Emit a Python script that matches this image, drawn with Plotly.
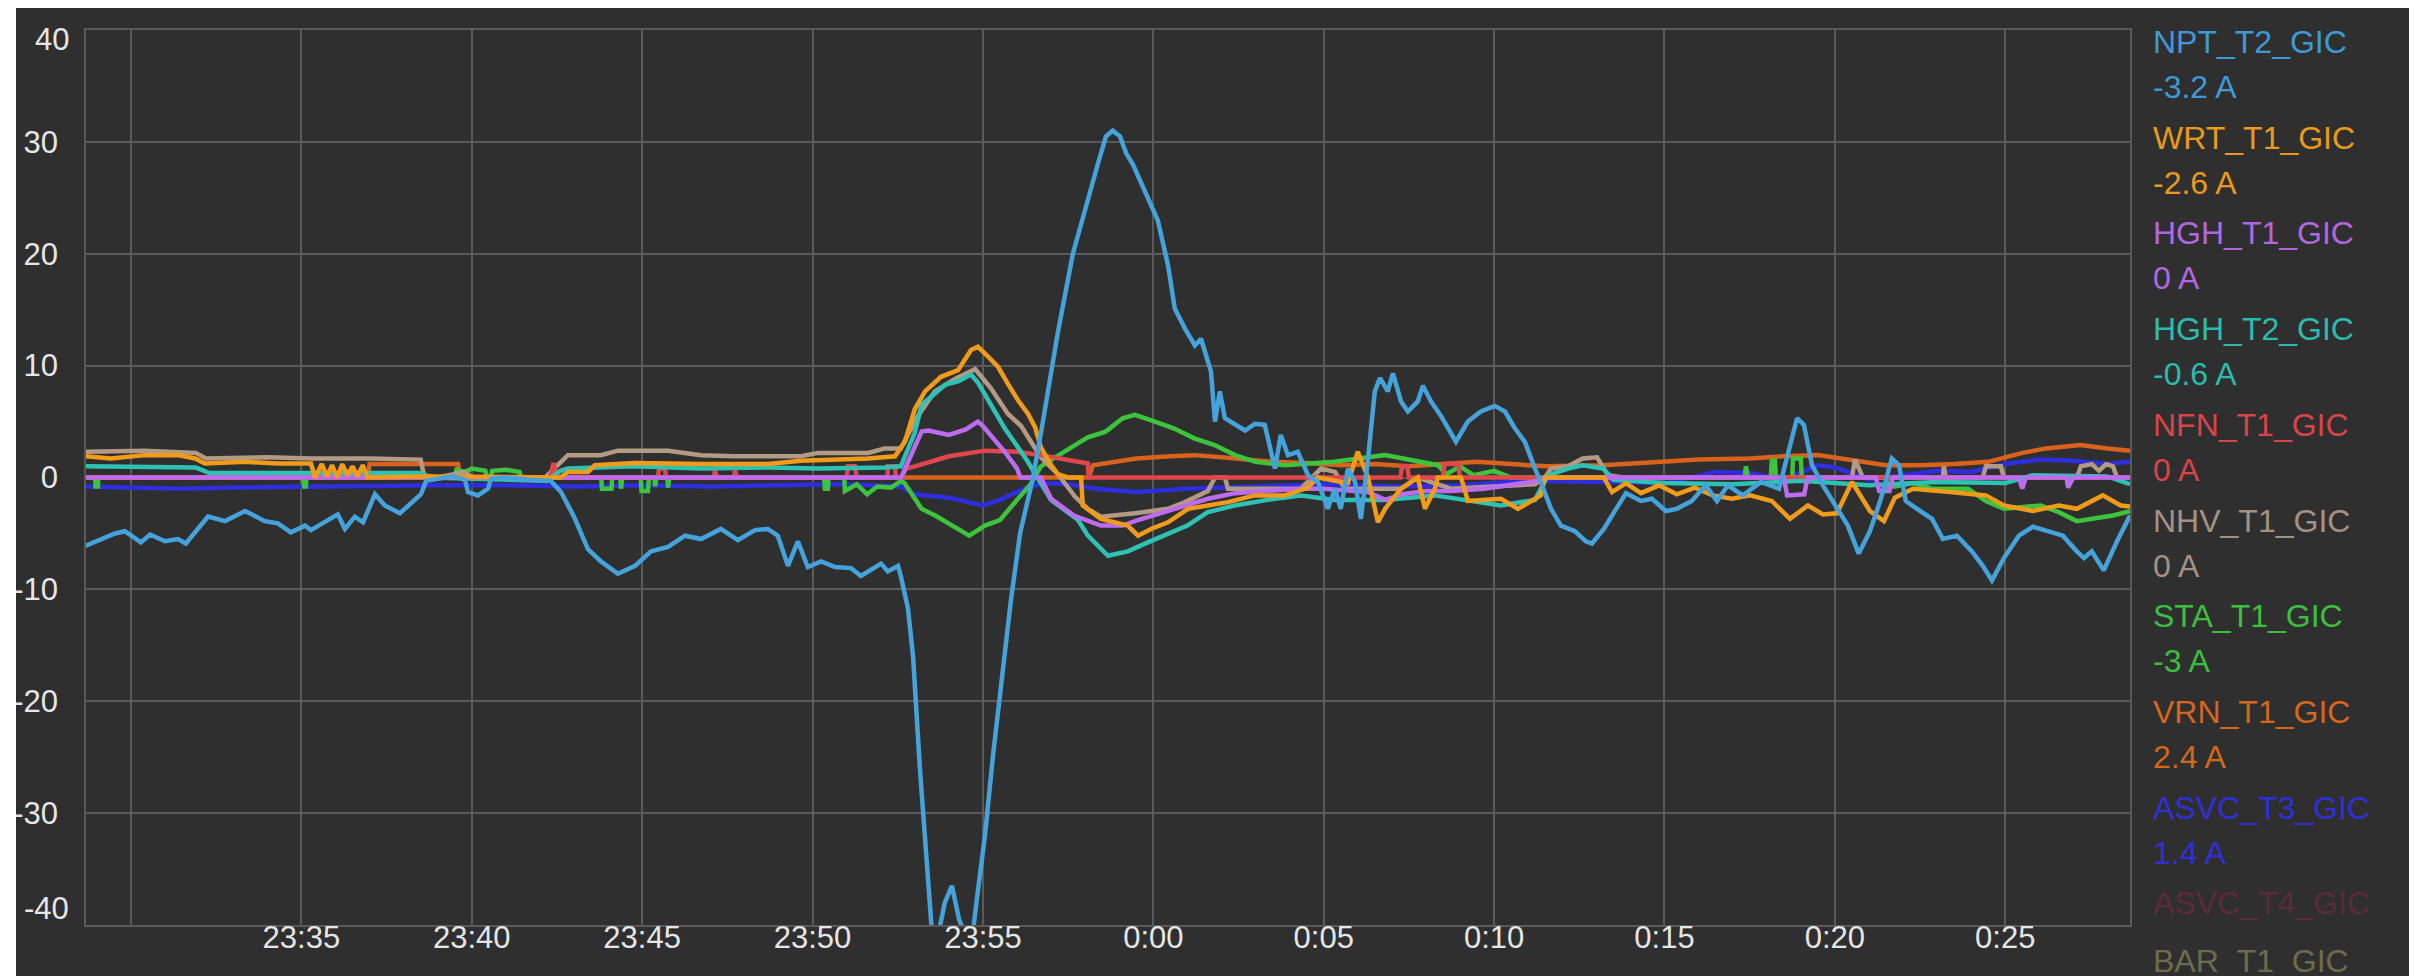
import plotly.graph_objects as go
import pandas as pd

BASE = pd.Timestamp("2024-05-10 23:30:00")

# (minutes after 23:30, amps)
npt = [(-1.41,-6.2),(-0.97,-5.6),(-0.47,-5.0),(-0.18,-4.8),(0.29,-5.8),(0.56,-5.1),(1.0,-5.7),(1.38,-5.5),(1.61,-5.9),
       (2.26,-3.5),(2.76,-3.9),(3.35,-3.0),(3.93,-3.9),(4.31,-4.1),(4.69,-4.9),(5.11,-4.3),(5.28,-4.7),(6.07,-3.3),
       (6.28,-4.6),(6.57,-3.5),(6.81,-4.0),(7.16,-1.5),(7.45,-2.5),(7.89,-3.2),(8.22,-2.3),(8.51,-1.5),(8.66,-0.3),
       (9.01,-0.1),(9.45,0.1),(9.80,-0.2),(9.89,-1.3),(10.18,-1.6),(10.48,-1.0),(10.56,-0.1),(11.06,0.0),(11.65,-0.2),
       (12.32,-0.3),(12.62,-1.3),(13.0,-3.5),(13.41,-6.4),(13.79,-7.5),(14.29,-8.6),(14.79,-7.9),(15.26,-6.6),
       (15.76,-6.2),(16.26,-5.2),(16.73,-5.5),(17.31,-4.6),(17.81,-5.6),(18.31,-4.7),(18.69,-4.6),(18.98,-5.2),
       (19.28,-7.9),(19.57,-5.7),(19.86,-8.0),(20.25,-7.5),(20.66,-8.0),(21.13,-8.1),(21.42,-8.8),(22.01,-7.7),
       (22.21,-8.4),(22.51,-7.9),(22.59,-8.8),(22.80,-11.7),(22.95,-16),(23.15,-26),(23.33,-34),(23.50,-40.5),
       (23.68,-41),(23.88,-38),(24.09,-36.5),(24.30,-39.5),(24.50,-41),(24.71,-40.5),(24.85,-37),(25.06,-32),
       (25.29,-25),(25.56,-18),(25.82,-11),(26.09,-5),(26.47,0),(26.76,5),(27.20,13),(27.64,20),(28.08,25),
       (28.37,28),(28.61,30.5),(28.81,31),(29.02,30.5),(29.20,29),(29.40,28),(29.69,26),(30.13,23),(30.43,19),
       (30.63,15.1),(30.93,13.3),(31.22,11.8),(31.40,12.4),(31.69,9.5),(31.81,5.0),(31.95,7.7),(32.10,5.3),
       (32.39,4.7),(32.69,4.2),(32.98,4.8),(33.27,4.7),(33.57,0.8),(33.74,3.8),(33.95,2.0),(34.24,2.3),(34.54,0.2),
       (34.83,-0.4),(35.12,-2.8),(35.33,-1.0),(35.50,-2.8),(35.71,0.8),(35.92,-0.4),(36.09,-3.7),(36.30,1.7),
       (36.50,7.7),(36.65,8.9),(36.88,7.7),(37.03,9.3),(37.27,6.8),(37.47,5.9),(37.76,6.8),(37.91,8.2),(38.15,6.8),
       (38.44,5.5),(38.88,3.2),(39.23,5.0),(39.61,5.9),(40.02,6.4),(40.32,5.9),(40.61,4.4),(40.90,3.2),(41.20,0.8),
       (41.37,-0.4),(41.67,-2.8),(41.96,-4.3),(42.37,-4.8),(42.69,-5.7),(42.87,-5.9),(43.22,-4.6),(43.54,-3.0),
       (43.87,-1.4),(44.31,-2.1),(44.63,-1.9),(45.04,-3.0),(45.36,-2.8),(45.80,-2.1),(46.21,-0.7),(46.54,-2.1),
       (46.86,-0.7),(47.30,-1.6),(47.83,-0.4),(48.36,-1.0),(48.68,2.9),(48.89,5.3),(49.09,4.7),(49.33,1.1),
       (49.65,-0.7),(50.06,-2.8),(50.38,-4.3),(50.70,-6.8),(51.03,-4.8),(51.35,-1.9),(51.67,1.7),(51.88,1.1),
       (52.08,-2.1),(52.41,-2.8),(52.85,-3.7),(53.17,-5.5),(53.58,-5.2),(54.02,-6.6),(54.34,-7.9),(54.61,-9.2),
       (54.96,-7.2),(55.40,-5.2),(55.81,-4.4),(56.25,-4.8),(56.69,-5.2),(57.10,-6.6),(57.31,-7.2),(57.54,-6.6),
       (57.89,-8.3),(58.28,-5.7),(58.66,-3.4)]

wrt = [(-1.35,1.9),(-0.59,1.7),(0.41,2.0),(1.38,2.0),(1.88,1.7),(2.17,1.25),(3.35,1.4),(4.31,1.25),(5.28,1.25),
       (5.4,0.0),(5.6,1.2),(5.75,0.1),(5.9,1.1),(6.05,0.0),(6.2,1.2),(6.35,0.2),(6.5,1.0),(6.65,0.1),(6.8,1.1),
       (6.95,0.0),(8.5,0.1),(12.6,0.0),(12.82,0.5),(13.41,0.5),(13.61,1.1),(14.79,1.3),(16.73,1.2),(18.69,1.2),
       (19.66,1.5),(21.63,1.7),(22.42,1.9),(22.71,3.2),(23.0,6.1),(23.3,7.7),(23.77,9.0),(24.27,9.6),(24.65,11.4),
       (24.85,11.7),(25.15,10.8),(25.44,9.9),(25.73,8.4),(26.03,6.9),(26.32,5.7),(26.53,4.5),(26.7,2.7),(27.0,1.1),
       (27.2,0.3),(27.49,0.0),(27.88,0.0),(27.93,-2.5),(28.46,-3.7),(29.25,-4.3),(29.55,-5.2),(29.93,-4.6),
       (30.43,-4.0),(31.02,-2.8),(31.6,-2.5),(32.19,-2.2),(32.98,-1.6),(33.86,-1.6),(34.54,-0.9),(34.83,0.0),
       (35.71,-0.5),(36.0,2.3),(36.3,0.0),(36.59,-4.0),(36.8,-2.8),(37.27,-1.0),(37.76,0.0),(37.97,-2.8),(38.26,-1.0),
       (38.35,0.0),(39.03,0.0),(39.23,-2.1),(40.2,-1.9),(40.7,-2.8),(41.37,-1.6),(41.49,0.0),(43.22,0.0),(43.46,-1.3),
       (43.87,-0.5),(44.31,-1.4),(44.84,-0.7),(45.36,-1.5),(45.89,-0.9),(46.42,-1.6),(46.98,-1.9),(47.51,-1.6),
       (48.15,-2.1),(48.68,-3.7),(49.21,-2.5),(49.65,-3.3),(50.06,-3.2),(50.5,-0.4),(51.03,-3.0),(51.44,-3.9),
       (51.76,-1.8),(52.29,-1.0),(53.38,-1.3),(54.43,-1.6),(54.96,-2.5),(55.81,-3.0),(56.57,-2.5),(57.1,-2.8),
       (57.86,-1.6),(58.39,-2.5),(58.66,-2.6)]

hgh_t1 = [(-1.4,0),(22.6,0),(23.2,4.1),(23.4,4.2),(24.0,3.8),(24.5,4.3),(24.85,5.0),(25.0,4.6),(25.64,2.3),
          (26.0,0.8),(26.1,0.0),(26.7,0.0),(27.0,-1.9),(27.67,-3.4),(28.46,-4.3),(29.1,-4.3),(29.55,-3.8),(30.0,-3.4),
          (30.7,-2.8),(31.6,-1.9),(32.4,-1.4),(33.4,-1.2),(34.3,-1.0),(35.0,-1.0),(36.3,-1.3),(36.8,-2.0),(37.3,-1.5),
          (38.0,-1.2),(38.73,-1.2),(39.7,-1.0),(40.7,-0.6),(41.3,-0.3),(41.5,0.0),(48.5,0.0),(48.6,-1.6),(49.1,-1.5),
          (49.2,0.0),(51.2,0.0),(51.3,-1.2),(51.6,-1.2),(51.7,0.0),(55.4,0.0),(55.5,-1.0),(55.6,0.0),(56.8,0.0),
          (56.84,-0.9),(57.0,0.0),(58.66,0.0)]

hgh_t2 = [(-1.35,1.0),(0.5,1.0),(1.9,0.9),(2.3,0.4),(5.3,0.4),(8.5,0.4),(8.7,0.0),(12.2,-0.3),(12.6,0.6),
          (12.82,0.8),(14.79,1.0),(16.73,0.8),(18.69,0.9),(20.16,0.8),(22.12,0.9),(22.59,1.0),(23.0,4.0),(23.2,6.5),
          (23.59,7.5),(23.9,8.3),(24.27,8.6),(24.65,9.2),(24.85,8.5),(25.15,7.0),(25.64,4.4),(26.3,1.5),(26.61,-0.1),
          (27.0,-2.0),(27.79,-3.8),(28.08,-5.2),(28.67,-7.0),(29.25,-6.6),(29.84,-5.8),(30.43,-5.0),(31.0,-4.3),
          (31.6,-3.1),(32.39,-2.5),(33.36,-2.0),(34.33,-1.6),(35.33,-2.0),(36.8,-2.0),(38.26,-1.6),(39.23,-2.0),
          (40.2,-2.5),(41.2,-2.0),(41.58,0.2),(42.17,0.8),(42.6,1.1),(43.2,0.8),(43.5,-0.2),(45.0,-0.5),(47.0,-0.6),
          (49.0,-0.3),(51.0,-0.7),(53.0,-0.4),(55.0,-0.5),(55.8,0.2),(57.0,0.2),(58.0,0.1),(58.66,-0.6)]

nfn = [(-1.4,0),(12.3,0),(12.4,1.3),(12.5,0),(15.46,0),(15.5,0.8),(15.67,0.8),(15.7,0),(17.1,0),(17.14,0.6),
       (17.2,0),(17.7,0),(17.72,0.6),(17.8,0),(21.0,0),(21.04,1.0),(21.24,1.0),(21.3,0),(22.2,0),(22.21,1.0),
       (22.42,1.0),(22.45,0),(22.6,0),(22.75,0.8),(23.0,1.0),(24.0,1.9),(25.05,2.4),(26.0,2.3),(26.7,2.0),(27.2,1.7),
       (28.08,1.25),(28.1,0),(37.25,0),(37.3,1.0),(37.45,1.0),(37.5,0),(38.5,0),(38.55,1.2),(38.95,1.2),(39.0,0),
       (58.66,0)]

nhv = [(-1.35,2.3),(0.4,2.4),(1.9,2.2),(2.2,1.7),(4.0,1.8),(5.3,1.7),(7.0,1.7),(8.5,1.6),(8.6,0.2),(9.0,0.0),
       (9.8,0.5),(10.0,0.0),(12.15,0.0),(12.5,1.0),(12.82,2.0),(13.79,2.0),(14.29,2.4),(15.76,2.4),(16.73,2.0),
       (17.72,1.9),(19.66,1.9),(20.16,2.2),(21.63,2.2),(22.12,2.6),(22.59,2.6),(23.09,5.5),(23.59,7.7),(24.18,8.8),
       (24.77,9.7),(25.23,8.0),(25.73,5.7),(26.12,4.6),(26.7,1.8),(27.2,0.3),(27.7,-1.7),(28.08,-2.8),(28.46,-3.5),
       (29.46,-3.2),(30.43,-2.8),(30.93,-2.2),(31.6,-1.2),(31.81,0.0),(32.1,0.0),(32.19,-1.0),(34.33,-1.0),
       (34.92,0.8),(35.33,0.5),(35.62,-1.0),(37.27,-1.0),(37.76,0.0),(38.26,-0.5),(38.73,-1.0),(41.2,-0.6),
       (41.49,0.0),(41.67,0.8),(42.17,1.0),(42.6,1.7),(43.02,1.8),(43.34,0.2),(43.78,0.0),(50.5,0.0),(50.59,1.6),
       (50.82,0.0),(53.17,0.0),(53.2,1.0),(53.25,0.0),(54.34,0.0),(54.43,1.0),(54.87,1.0),(54.96,0.0),(57.1,0.0),
       (57.22,1.0),(57.54,1.2),(57.75,0.6),(57.96,1.2),(58.16,1.0),(58.28,0.0),(58.66,0.0)]

sta = [(-1.4,0),(-1.05,0),(-1.04,-0.8),(-0.97,-0.8),(-0.96,0),(5.05,0),(5.08,-0.8),(5.13,-0.8),(5.15,0),(9.5,0),
       (9.55,0.7),(9.8,0.5),(10.0,0.8),(10.4,0.6),(10.45,0),(10.56,0),(10.6,0.6),(11.0,0.7),(11.4,0.5),(11.45,0),
       (13.8,0),(13.82,-1.0),(14.1,-1.0),(14.12,0),(14.36,0),(14.38,-1.0),(14.42,0),(14.96,0),(14.98,-1.2),
       (15.17,-1.2),(15.2,0),(15.36,0),(15.38,-0.8),(15.42,0),(15.74,0),(15.76,-0.9),(15.8,0),(20.34,0),(20.36,-1.0),
       (20.45,-1.0),(20.47,0),(20.93,0),(20.95,-1.2),(21.3,-0.6),(21.6,-1.5),(21.9,-0.8),(22.3,-0.9),(22.6,-0.3),
       (22.7,-0.5),(23.2,-2.8),(23.6,-3.4),(24.1,-4.3),(24.6,-5.2),(25.06,-4.3),(25.5,-3.8),(26.0,-2.0),(26.4,-0.6),
       (26.7,1.0),(27.2,2.0),(27.7,2.9),(28.08,3.6),(28.6,4.1),(29.1,5.3),(29.46,5.6),(30.05,5.0),(30.6,4.4),
       (31.2,3.5),(31.8,2.9),(32.4,2.0),(33.0,1.4),(33.86,1.1),(35.3,1.4),(36.8,2.0),(37.8,1.4),(38.35,1.1),
       (38.6,0.3),(39.0,1.0),(39.4,0.2),(40.0,0.6),(40.5,0.0),(47.35,0),(47.39,1.0),(47.45,0),(48.12,0),(48.15,1.5),
       (48.24,1.5),(48.27,0),(48.75,0),(48.77,1.7),(49.0,1.7),(49.03,0),(51.52,0),(51.55,-0.8),(51.76,-0.8),
       (52.29,-0.5),(52.85,-1.0),(53.91,-1.0),(54.43,-2.1),(54.96,-2.8),(56.04,-2.5),(56.57,-3.1),(57.1,-3.9),
       (57.63,-3.6),(58.16,-3.4),(58.66,-3.0)]

vrn = [(-1.4,0),(6.95,0),(7.0,1.2),(9.6,1.2),(9.65,0),(28.1,0),(28.23,1.1),(28.8,1.4),(29.5,1.7),(30.5,1.9),
       (31.2,2.0),(32.0,1.8),(32.7,1.6),(33.5,1.4),(34.5,1.3),(35.5,1.1),(36.5,1.2),(37.5,1.0),(38.5,1.2),(39.5,1.4),
       (40.5,1.2),(41.5,1.0),(43.2,1.1),(44.5,1.3),(46.0,1.6),(47.5,1.7),(48.5,1.9),(49.5,2.0),(50.5,1.5),(51.5,1.1),
       (52.5,1.1),(53.5,1.2),(54.5,1.4),(55.5,2.2),(56.2,2.6),(57.2,2.9),(58.0,2.6),(58.66,2.4)]

asvc_t3 = [(-1.4,-0.8),(0.0,-0.9),(1.5,-1.0),(3.0,-0.9),(5.0,-0.8),(7.0,-0.7),(9.0,-0.7),(11.0,-0.7),(13.0,-0.8),
           (15.0,-0.7),(17.0,-0.8),(19.0,-0.7),(21.0,-0.6),(22.6,-0.8),(23.0,-1.5),(24.0,-1.8),(25.0,-2.5),(25.5,-2.0),
           (26.2,-1.0),(26.8,-0.5),(27.5,-0.6),(28.3,-1.0),(29.5,-1.3),(31.0,-1.0),(33.0,-0.8),(35.0,-0.6),(37.0,-0.8),
           (39.0,-0.7),(41.0,-0.3),(43.0,-0.4),(45.0,-0.5),(46.5,0.5),(47.5,0.4),(48.5,-0.2),(49.5,1.1),(50.0,0.9),
           (51.0,-0.2),(53.0,0.6),(54.0,0.5),(55.0,1.2),(56.0,1.6),(57.0,1.5),(58.0,1.2),(58.66,1.4)]

series_names = ["NPT_T2_GIC", "WRT_T1_GIC", "HGH_T1_GIC", "HGH_T2_GIC", "NFN_T1_GIC",
                "NHV_T1_GIC", "STA_T1_GIC", "VRN_T1_GIC", "ASVC_T3_GIC"]
series_data = [npt, wrt, hgh_t1, hgh_t2, nfn, nhv, sta, vrn, asvc_t3]
series_colors = ["#45a3dc", "#f09c1a", "#bd6cf0", "#2ec2b4", "#e0474c",
                 "#b39a84", "#3cc43c", "#d9621c", "#2e2ee0"]
legend_values = ["-3.2 A", "-2.6 A", "0 A", "-0.6 A", "0 A", "0 A", "-3 A", "2.4 A", "1.4 A"]
legend_colors = ["#3d9ad6", "#e99a1c", "#b068e0", "#2bbcae", "#d9434a",
                 "#a59184", "#3cbf3c", "#d4661e", "#3030d8"]
faded_names = ["ASVC_T4_GIC", "BAR_T1_GIC"]
faded_colors = ["#5c2a3a", "#6e6c4e"]

y_ticks = [-30, -20, -10, 0, 10, 20, 30]
x_tick_minutes = [0, 5, 10, 15, 20, 25, 30, 35, 40, 45, 50, 55]
x_tick_labels = ["", "23:35", "23:40", "23:45", "23:50", "23:55", "0:00", "0:05", "0:10", "0:15", "0:20", "0:25"]

W, H = 2417, 976
L, R, T, B = 78, 295, 22, 59
PW, PH = W - L - R, H - T - B
BG = "#2f2f2f"
GRID = "#5a5a5a"
TXT = "#e6e6e6"
FONT = "Liberation Sans, Arial, sans-serif"

def px_y(p):
    return (H - B - p) / PH

def px_x(p):
    return (p - L) / PW

fig = go.Figure()
# earlier legend entries are drawn on top
for name, data, col in reversed(list(zip(series_names, series_data, series_colors))):
    fig.add_trace(go.Scatter(
        x=[BASE + pd.Timedelta(minutes=m) for m, _ in data],
        y=[v for _, v in data],
        mode="lines", name=name,
        line=dict(color=col, width=4.5),
        hoverinfo="skip", showlegend=False))

annotations = []
LEG_X = px_x(2143)
y0 = 34
for i, (nm, val, col) in enumerate(zip(series_names, legend_values, legend_colors)):
    yc = y0 + i * 95.7
    annotations.append(dict(x=LEG_X, y=px_y(yc), xref="paper", yref="paper", text=nm,
                            showarrow=False, xanchor="left", yanchor="middle",
                            font=dict(family=FONT, size=32, color=col)))
    annotations.append(dict(x=LEG_X, y=px_y(yc + 45), xref="paper", yref="paper", text=val,
                            showarrow=False, xanchor="left", yanchor="middle",
                            font=dict(family=FONT, size=32, color=col)))
annotations.append(dict(x=LEG_X, y=px_y(y0 + 9 * 95.7), xref="paper", yref="paper", text=faded_names[0],
                        showarrow=False, xanchor="left", yanchor="middle",
                        font=dict(family=FONT, size=32, color=faded_colors[0])))
annotations.append(dict(x=LEG_X, y=px_y(y0 + 9 * 95.7 + 58), xref="paper", yref="paper", text=faded_names[1],
                        showarrow=False, xanchor="left", yanchor="middle",
                        font=dict(family=FONT, size=32, color=faded_colors[1])))
# clamped end labels of the y axis
annotations.append(dict(x=px_x(63), y=px_y(31), xref="paper", yref="paper", text="40",
                        showarrow=False, xanchor="right", yanchor="middle",
                        font=dict(family=FONT, size=31, color=TXT)))
annotations.append(dict(x=px_x(63), y=px_y(900), xref="paper", yref="paper", text="-40",
                        showarrow=False, xanchor="right", yanchor="middle",
                        font=dict(family=FONT, size=31, color=TXT)))

shapes = [
    dict(type="rect", xref="paper", yref="paper", x0=px_x(0), x1=px_x(8), y0=px_y(H), y1=px_y(0),
         fillcolor="white", line=dict(width=0), layer="above"),
    dict(type="rect", xref="paper", yref="paper", x0=px_x(2407), x1=px_x(W), y0=px_y(H), y1=px_y(0),
         fillcolor="white", line=dict(width=0), layer="above"),
]

fig.update_layout(
    width=W, height=H,
    margin=dict(l=L, r=R, t=T, b=B, pad=0, autoexpand=False),
    paper_bgcolor=BG, plot_bgcolor=BG,
    font=dict(family=FONT, size=31, color=TXT),
    annotations=annotations, shapes=shapes,
    xaxis=dict(
        type="date", automargin=False,
        range=[BASE + pd.Timedelta(minutes=-1.32), BASE + pd.Timedelta(minutes=58.66)],
        tickvals=[BASE + pd.Timedelta(minutes=m) for m in x_tick_minutes],
        ticktext=x_tick_labels,
        showgrid=True, gridcolor=GRID, gridwidth=1.5,
        showline=True, linecolor=GRID, linewidth=1.5, mirror=True,
        zeroline=False, ticks="", ticklabelstandoff=-16,
        tickfont=dict(family=FONT, size=31, color=TXT),
    ),
    yaxis=dict(
        range=[-40, 40], automargin=False,
        tickvals=y_ticks + [40, -40],
        ticktext=[str(v) for v in y_ticks] + ["", ""],
        showgrid=True, gridcolor=GRID, gridwidth=1.5,
        showline=True, linecolor=GRID, linewidth=1.5, mirror=True,
        zeroline=False, ticks="", ticklabelstandoff=20,
        tickfont=dict(family=FONT, size=31, color=TXT),
    ),
)

fig.write_html("out.html")
